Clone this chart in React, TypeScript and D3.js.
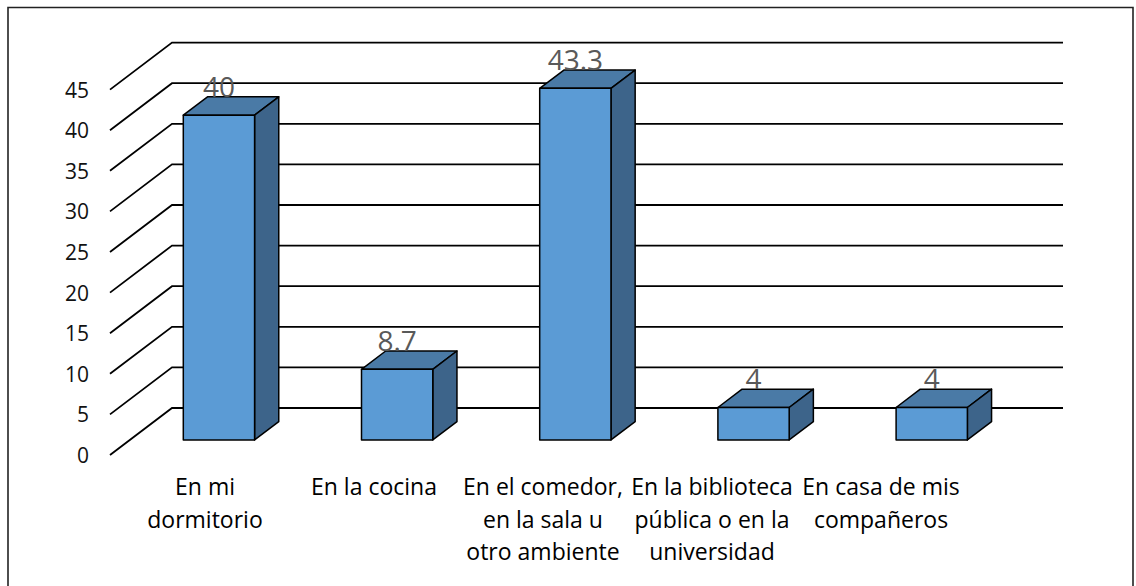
import React from "react"
import * as d3 from "d3"

const categories = [
  ["En mi", "dormitorio"],
  ["En la cocina"],
  ["En el comedor,", "en la sala u", "otro ambiente"],
  ["En la biblioteca", "pública o en la", "universidad"],
  ["En casa de mis", "compañeros"],
]
const values = [40, 8.7, 43.3, 4, 4]
const ticks = [0, 5, 10, 15, 20, 25, 30, 35, 40, 45]

const W = 1136
const H = 586
const FONT = "'Open Sans', Lato, sans-serif"

// floor / wall geometry
const frontX = 110
const frontY = 455
const depthX = 62
const depthY = 47
const wallWidth = 891
const barFront = 0.32
const barBack = 0.71

const App = () => {
  const keys = categories.map((c) => c.join(" "))

  const h = d3.scaleLinear().domain([0, 45]).range([0, 365.4])

  const x = d3
    .scaleBand()
    .domain(keys)
    .range([frontX, frontX + wallWidth])
    .paddingInner(0.6)
    .paddingOuter(0.3)

  const labelX = d3.scalePoint().domain(keys).range([205, 881])

  const bw = x.bandwidth()
  const bdx = (barBack - barFront) * depthX
  const bdy = (barBack - barFront) * depthY

  return (
    <svg
      width={W}
      height={H}
      style={{ position: "absolute", left: 0, top: 0, background: "#fff" }}
      fontFamily={FONT}
    >
      {/* chart border */}
      <path d={`M8,${H + 2} V7.5 H1133 V${H + 2}`} fill="none" stroke="#222" strokeWidth={1.6} />

      {/* side wall diagonals + back wall lines */}
      {ticks.map((t) => {
        const y0 = frontY - h(t)
        return (
          <g key={t}>
            <path
              d={`M${frontX},${y0} L${frontX + depthX},${y0 - depthY} H${frontX + depthX + wallWidth}`}
              fill="none"
              stroke="#000"
              strokeWidth={1.8}
            />
            <text x={89} y={y0} textAnchor="end" dominantBaseline="central" fontSize={21} fill="#111">
              {t}
            </text>
          </g>
        )
      })}

      {/* bars */}
      {values.map((v, i) => {
        const x0 = (x(keys[i]) as number) + barFront * depthX
        const yb = frontY - barFront * depthY
        const yt = yb - h(v)
        return (
          <g key={keys[i]} stroke="#000" strokeWidth={1.5} strokeLinejoin="round">
            <path
              d={`M${x0},${yt} L${x0 + bdx},${yt - bdy} H${x0 + bw + bdx} L${x0 + bw},${yt} Z`}
              fill="#4a7aa6"
            />
            <path
              d={`M${x0 + bw},${yt} L${x0 + bw + bdx},${yt - bdy} V${yb - bdy} L${x0 + bw},${yb} Z`}
              fill="#3d648a"
            />
            <rect x={x0} y={yt} width={bw} height={yb - yt} fill="#5b9bd5" />
          </g>
        )
      })}

      {/* value labels */}
      {values.map((v, i) => {
        const x0 = (x(keys[i]) as number) + barFront * depthX
        const yt = frontY - barFront * depthY - h(v)
        return (
          <text key={keys[i]} x={x0 + bw / 2} y={yt - bdy} textAnchor="middle" fontSize={28} fill="#595959">
            {v}
          </text>
        )
      })}

      {/* category labels */}
      {categories.map((lines, i) => (
        <text key={keys[i]} x={labelX(keys[i])} y={495} textAnchor="middle" fontSize={23} fill="#000">
          {lines.map((l, j) => (
            <tspan key={j} x={labelX(keys[i])} dy={j === 0 ? 0 : 32.5}>
              {l}
            </tspan>
          ))}
        </text>
      ))}
    </svg>
  )
}

export default App
